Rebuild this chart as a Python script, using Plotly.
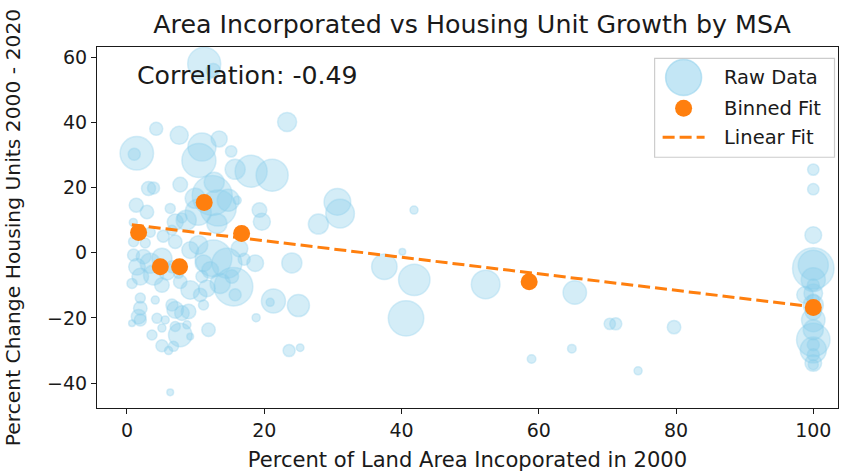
import plotly.graph_objects as go

# ---------------- data ----------------
pct_incorporated = [
    11.25, 12.56, 23.33, 4.26, 7.61, 13.43, 1.43, 1.06, 10.92, 10.48,
    15.18, 15.76, 18.09, 21.15, 3.14, 3.87, 7.76, 1.35, 2.91, 6.30,
    12.42, 13.29, 10.38, 14.75, 12.71, 9.94, 16.06, 19.30, 19.65, 8.01,
    7.03, 8.63, 13.10, 0.92, 30.66, 31.05, 27.89, 41.82, 40.12, 24.02,
    37.50, 41.86, 52.26, 65.25, 24.98, 21.34, 20.86, 40.66, 23.62, 25.23,
    18.82, 58.95, 64.82, 70.35, 71.22, 79.71, 74.47, 16.39, 17.07, 18.68,
    15.52, 15.76, 15.28, 12.61, 14.56, 10.42, 9.21, 7.03, 6.55, 0.96,
    0.96, 2.42, 1.46, 3.39, 5.09, 1.94, 3.87, 5.09, 0.73, 5.82,
    7.76, 9.21, 6.55, 4.12, 1.94, 1.94, 1.69, 6.55, 7.03, 8.01,
    8.97, 4.37, 5.57, 11.15, 10.67, 11.64, 10.92, 7.51, 11.15, 12.13,
    13.58, 0.73, 1.94, 5.09, 3.64, 7.76, 7.03, 8.73, 9.21, 11.88,
    5.09, 6.06, 6.78, 6.30, 2.66, 3.39, 5.28,
    100, 100, 100, 100, 100, 100, 98.8, 100, 100, 100,
    100, 100, 100, 100, 100, 100, 100, 100, 100, 100,
]
pct_change_units = [
    58.0, 55.9, 40.1, 38.0, 36.0, 34.9, 30.5, 30.2, 32.4, 28.3,
    31.1, 25.6, 25.0, 23.8, 19.7, 19.9, 20.9, 14.6, 12.5, 13.6,
    17.6, 13.7, 12.4, 16.1, 21.6, 16.7, 16.1, 13.1, 9.5, 10.7,
    9.4, 10.0, 9.0, 9.3, 15.6, 12.0, 8.8, 13.1, 0.3, -3.1,
    -4.3, -8.3, -9.7, -12.2, -16.2, -14.8, -15.2, -20.1, -30.0, -29.1,
    -19.9, -32.6, -29.4, -21.8, -21.8, -22.8, -36.2, 1.3, -2.0, -3.2,
    -10.4, -12.9, -7.3, -1.7, -3.2, 2.4, 0.8, 3.4, 6.9, 3.4,
    -0.7, -1.2, -4.3, -3.2, -1.7, -7.3, -6.8, -9.9, -9.4, -5.8,
    -8.9, -11.4, -4.3, -14.5, -13.9, -17.0, -19.6, -16.0, -17.5, -18.5,
    -18.0, -20.1, -20.6, -16.0, -12.9, -10.9, -7.3, -6.3, -3.2, -5.3,
    -9.4, -21.6, -20.6, -23.1, -25.2, -25.2, -22.6, -22.1, -25.7, -23.6,
    -28.5, -30.0, -28.7, -42.8, 3.0, 6.3, 5.1,
    25.5, 19.5, 5.4, -4.8, -3.8, -8.3, -12.9, -12.4, -16.0, -20.6,
    -26.7, -29.8, -33.8, -34.3, -23.6, -18.1, -9.9, -14.5, -28.2, -31.3,
]
msa_weight = [
    272, 49, 90, 42, 81, 64, 279, 36, 196, 289,
    32, 100, 256, 256, 49, 36, 53, 49, 45, 25,
    400, 324, 169, 121, 100, 100, 16, 53, 72, 25,
    64, 100, 100, 16, 177, 204, 100, 16, 11, 100,
    161, 246, 204, 137, 121, 144, 16, 313, 36, 14,
    16, 18, 18, 32, 36, 45, 16, 69, 36, 69,
    372, 36, 45, 335, 225, 86, 69, 45, 25, 25,
    36, 53, 69, 100, 100, 69, 100, 53, 25, 69,
    45, 86, 36, 16, 25, 45, 53, 36, 69, 53,
    53, 25, 16, 25, 45, 69, 36, 25, 69, 69,
    100, 11, 36, 16, 25, 137, 25, 16, 11, 45,
    36, 16, 25, 11, 25, 25, 36,
    32, 32, 69, 428, 225, 144, 69, 86, 100, 137,
    279, 169, 69, 25, 100, 64, 36, 36, 36, 36,
]

binned_x = [1.69, 4.85, 7.66, 11.25, 16.7, 58.6, 100.0]
binned_y = [6.2, -4.3, -4.3, 15.4, 5.9, -8.9, -16.8]

fit_x = [0.7, 100.0]
fit_y = [8.6, -16.6]

correlation = -0.49

title_text = "Area Incorporated vs Housing Unit Growth by MSA"
x_label = "Percent of Land Area Incoporated in 2000"
y_label = "Percent Change Housing Units 2000 - 2020"
legend_labels = ["Raw Data", "Binned Fit", "Linear Fit"]

# ---------------- styling ----------------
FONT = "DejaVu Sans"
SKY = "rgba(135,206,235,0.5)"
ORANGE = "#ff7f0e"
INK = "#1a1a1a"

W, H = 848, 473
L, T = 97, 46.5
R = W - 838.5
B = H - 408.3
pw, ph = W - L - R, H - T - B


def page_to_paper(px, py):
    """convert a pixel position of the figure into paper coordinates"""
    return (px - L) / pw, (H - B - py) / ph


fig = go.Figure()

fig.add_trace(go.Scatter(
    x=pct_incorporated, y=pct_change_units, mode="markers",
    name=legend_labels[0], showlegend=False,
    marker=dict(size=msa_weight, sizemode="area", sizeref=0.5,
                color=SKY, line=dict(color=SKY, width=1.5)),
))
fig.add_trace(go.Scatter(
    x=fit_x, y=fit_y, mode="lines", name=legend_labels[2], showlegend=False,
    line=dict(color=ORANGE, width=3, dash="12px,5px"),
))
fig.add_trace(go.Scatter(
    x=binned_x, y=binned_y, mode="markers", name=legend_labels[1], showlegend=False,
    marker=dict(size=17, color=ORANGE, line=dict(width=0)),
))

axis_common = dict(
    showline=True, linecolor=INK, linewidth=1.2, mirror=True,
    ticks="outside", ticklen=5, tickwidth=1.2, tickcolor=INK,
    showgrid=False, zeroline=False, automargin=False,
    tickfont=dict(family=FONT, size=19, color=INK),
)

fig.update_layout(
    width=W, height=H,
    margin=dict(l=L, r=R, t=T, b=B, autoexpand=False),
    paper_bgcolor="white", plot_bgcolor="white",
    showlegend=False,
    title=dict(text=title_text, x=472 / W, xanchor="center",
               y=1 - 24 / H, yanchor="middle",
               font=dict(family=FONT, size=25.3, color=INK)),
    xaxis=dict(range=[-4.37, 103.6], tickvals=[0, 20, 40, 60, 80, 100],
               title=dict(text=x_label, font=dict(family=FONT, size=21.1, color=INK),
                          standoff=12),
               **axis_common),
    yaxis=dict(range=[-47.6, 63.1], tickvals=[-40, -20, 0, 20, 40, 60],
               title=dict(text=y_label, font=dict(family=FONT, size=20.3, color=INK),
                          standoff=20),
               **axis_common),
)

# correlation text
cx, cy = page_to_paper(135, 75)
fig.add_annotation(text=f"Correlation: {correlation:.2f}", xref="paper", yref="paper",
                   x=cx, y=cy, xanchor="left", yanchor="middle", showarrow=False,
                   font=dict(family=FONT, size=25.2, color=INK))

# manual legend (matplotlib style)
bx0, by0 = page_to_paper(655, 157)
bx1, by1 = page_to_paper(835, 58)
fig.add_shape(type="rect", xref="paper", yref="paper", x0=bx0, y0=by0, x1=bx1, y1=by1,
              line=dict(color="#cccccc", width=1.2), fillcolor="rgba(255,255,255,0.8)",
              layer="above")
mx, my1 = page_to_paper(684, 77)
_, my2 = page_to_paper(684, 108)
fig.add_shape(type="circle", xref="paper", yref="paper", xsizemode="pixel", ysizemode="pixel",
              xanchor=mx, yanchor=my1, x0=-18, x1=18, y0=-18, y1=18,
              fillcolor=SKY, line=dict(color=SKY, width=1.5), layer="above")
fig.add_shape(type="circle", xref="paper", yref="paper", xsizemode="pixel", ysizemode="pixel",
              xanchor=mx, yanchor=my2, x0=-8.5, x1=8.5, y0=-8.5, y1=8.5,
              fillcolor=ORANGE, line=dict(width=0), layer="above")
lx0, ly = page_to_paper(663, 137)
lx1, _ = page_to_paper(705, 137)
fig.add_shape(type="line", xref="paper", yref="paper", x0=lx0, x1=lx1, y0=ly, y1=ly,
              line=dict(color=ORANGE, width=3, dash="12px,5px"), layer="above")
for label, py in zip(legend_labels, [77, 108, 137]):
    tx, ty = page_to_paper(722, py)
    fig.add_annotation(text=label, xref="paper", yref="paper", x=tx, y=ty,
                       xanchor="left", yanchor="middle", showarrow=False,
                       font=dict(family=FONT, size=19.5, color=INK))

# remove the browser's default 8px body margin so the figure fills the window
fig.write_html(
    "out.html",
    config={"displayModeBar": False},
    post_script="document.body.style.margin='0';document.body.style.overflow='hidden';",
)
